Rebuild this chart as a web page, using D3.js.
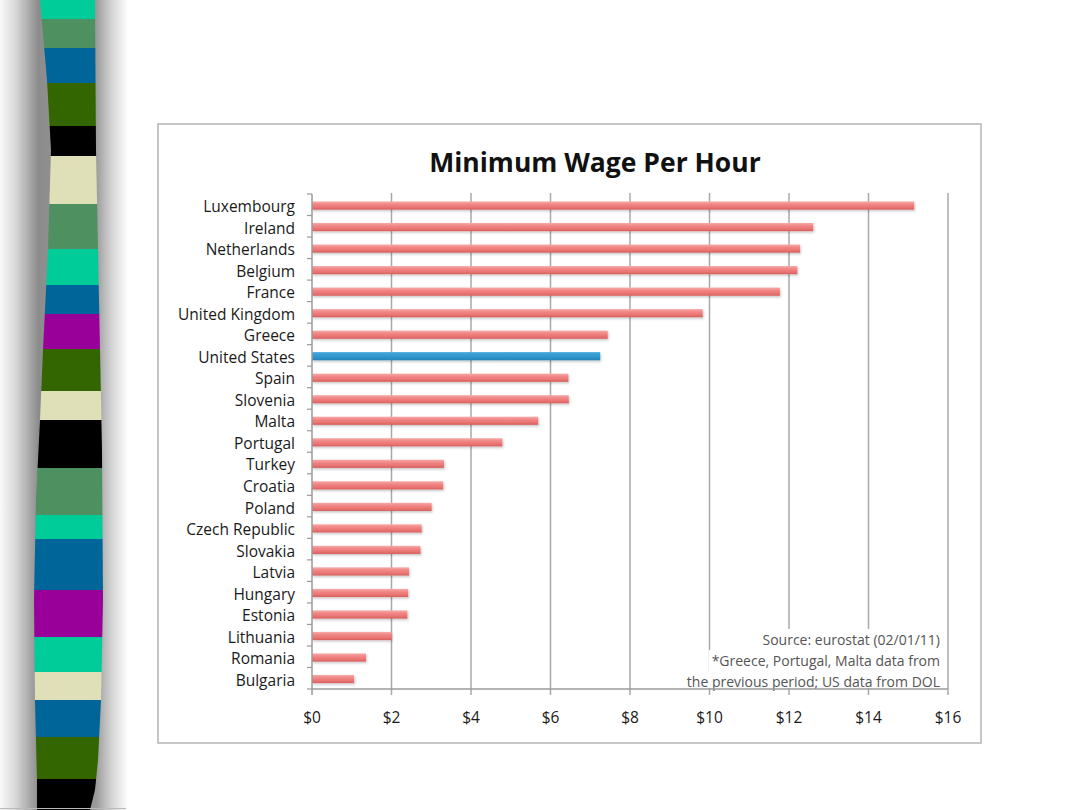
<!DOCTYPE html>
<html><head><meta charset="utf-8">
<script src="https://cdn.jsdelivr.net/npm/d3@7"></script>
<style>html,body{margin:0;padding:0;background:#fff;}svg{display:block;}</style>
</head><body>
<svg id="c" width="1080" height="810"></svg>
<script>
const categories = ["Luxembourg","Ireland","Netherlands","Belgium","France","United Kingdom","Greece","United States","Spain","Slovenia","Malta","Portugal","Turkey","Croatia","Poland","Czech Republic","Slovakia","Latvia","Hungary","Estonia","Lithuania","Romania","Bulgaria"];
const wages = [15.15,12.61,12.28,12.21,11.77,9.83,7.44,7.25,6.45,6.46,5.69,4.79,3.32,3.30,3.01,2.76,2.73,2.44,2.42,2.40,2.00,1.36,1.06];
const xTicks = [0,2,4,6,8,10,12,14,16];
const highlight = "United States";
const title = "Minimum Wage Per Hour";
const noteLines = ["Source: eurostat (02/01/11)","*Greece, Portugal, Malta data from","the previous period; US data from DOL"];
const stripColors = ["#00cc99","#4f9060","#006699","#336600","#000000","#e0e0b8","#4f9060","#00cc99","#006699","#990099","#336600","#e0e0b8","#000000","#4f9060","#00cc99","#006699","#990099","#00cc99","#e0e0b8","#006699","#336600","#000000"];
const stripBreaks = [0,19,48,83,126,156,204,249,285,314,349,391,420,468,515,539,590,637,672,700,737,779,810];

const svg = d3.select("#c");
const defs = svg.append("defs");

// decorative left strip
const sg = defs.append("linearGradient").attr("id","shade").attr("x1","0").attr("x2","1").attr("y1","0").attr("y2","0");
[[0,"#fafafa"],[0.12,"#d8d8d8"],[0.3,"#8c8c8c"],[0.75,"#9a9a9a"],[0.86,"#cfcfcf"],[1,"#ffffff"]].forEach(s=>sg.append("stop").attr("offset",s[0]).attr("stop-color",s[1]));
svg.append("rect").attr("x",0).attr("y",0).attr("width",128).attr("height",810).attr("fill","url(#shade)");
const leftEdge = d3.scaleLinear().domain([0,80,150,250,350,420,500,600,700,780,810]).range([40,47,51,48,43,40,36,34,35,37,37]);
const rightEdge = d3.scaleLinear().domain([0,150,300,450,600,700,760,790,810]).range([95,96,99,102,103,101,98,95,90]);
stripColors.forEach((c,i)=>{
  const y0 = stripBreaks[i], y1 = stripBreaks[i+1];
  const ys = d3.range(y0, y1, 4).concat([y1]);
  const pts = ys.map(y=>[leftEdge(y),y]).concat(ys.slice().reverse().map(y=>[rightEdge(y),y]));
  svg.append("path").attr("d","M"+pts.map(p=>p.join(",")).join("L")+"Z").attr("fill",c);
});
svg.append("line").attr("x1",0).attr("x2",126).attr("y1",808.5).attr("y2",808.5).attr("stroke","#bbb");

// chart frame
svg.append("rect").attr("x",158).attr("y",124).attr("width",823).attr("height",619).attr("fill","#fff").attr("stroke","#b4b4b4").attr("stroke-width",1.5);

svg.append("text").attr("x",595).attr("y",172).attr("text-anchor","middle")
  .attr("font-family","Open Sans").attr("font-weight","bold").attr("font-size",26.5).attr("fill","#111").text(title);

const yTop = 194, yBot = 689;
const x = d3.scaleLinear().domain([0,16]).range([312,948]);
const y = d3.scaleBand().domain(categories).range([yTop,yBot]).paddingInner(0.62).paddingOuter(0.31);

// gridlines
svg.append("g").selectAll("line").data(xTicks.slice(1)).join("line")
  .attr("x1",d=>x(d)).attr("x2",d=>x(d)).attr("y1",yTop-1).attr("y2",yBot+6)
  .attr("stroke","#a8a8a8").attr("stroke-width",1.5);

// bars
const pg = defs.append("linearGradient").attr("id","pink").attr("x1","0").attr("x2","0").attr("y1","0").attr("y2","1");
[[0,"#f7aaa8"],[0.35,"#f08786"],[0.75,"#e87270"],[1,"#d45e5c"]].forEach(s=>pg.append("stop").attr("offset",s[0]).attr("stop-color",s[1]));
const bg = defs.append("linearGradient").attr("id","blue").attr("x1","0").attr("x2","0").attr("y1","0").attr("y2","1");
[[0,"#45a8db"],[0.5,"#3198cf"],[1,"#2685ba"]].forEach(s=>bg.append("stop").attr("offset",s[0]).attr("stop-color",s[1]));
const f = defs.append("filter").attr("id","sh").attr("x","-5%").attr("y","-50%").attr("width","110%").attr("height","200%");
f.append("feDropShadow").attr("dx",1).attr("dy",1.5).attr("stdDeviation",1).attr("flood-color","#000").attr("flood-opacity",0.22);

svg.append("g").selectAll("rect").data(categories).join("rect")
  .attr("x",x(0)).attr("y",d=>y(d)+0.8).attr("height",y.bandwidth())
  .attr("width",(d,i)=>x(wages[i])-x(0))
  .attr("fill",d=>d===highlight?"url(#blue)":"url(#pink)")
  .attr("filter","url(#sh)");

// note with white backgrounds per line
const noteG = svg.append("g");
const noteBase = [645,666,687];
noteLines.forEach((t,i)=>{
  const tx = noteG.append("text").attr("x",940).attr("y",noteBase[i]).attr("text-anchor","end")
    .attr("font-family","Open Sans").attr("font-size",14).attr("fill","#555").text(t);
  const bb = tx.node().getBBox();
  noteG.insert("rect","text").attr("x",bb.x-3).attr("y",noteBase[i]-16).attr("width",bb.width+6).attr("height",i===2?17:21).attr("fill","#fff");
});

// axes lines
svg.append("line").attr("x1",x(0)).attr("x2",x(0)).attr("y1",yTop).attr("y2",yBot+6).attr("stroke","#9a9a9a").attr("stroke-width",1.5);
svg.append("line").attr("x1",x(0)).attr("x2",x(16)).attr("y1",yBot).attr("y2",yBot).attr("stroke","#9a9a9a").attr("stroke-width",1.5);
// category ticks at band boundaries
const bounds = categories.map(c=>y(c)-y.step()*y.paddingInner()/2).concat([yBot]);
svg.append("g").selectAll("line").data(bounds).join("line")
  .attr("x1",x(0)-5).attr("x2",x(0)).attr("y1",d=>d).attr("y2",d=>d).attr("stroke","#9a9a9a").attr("stroke-width",1.2);

// category labels
svg.append("g").selectAll("text").data(categories).join("text")
  .attr("x",295).attr("y",d=>y(d)+y.bandwidth()/2).attr("dy","0.48em").attr("text-anchor","end")
  .attr("font-family","Open Sans").attr("font-size",15.5).attr("fill","#1a1a1a").text(d=>d);

// x tick labels
svg.append("g").selectAll("text").data(xTicks).join("text")
  .attr("x",d=>x(d)).attr("y",723).attr("text-anchor","middle")
  .attr("font-family","Open Sans").attr("font-size",15.5).attr("fill","#1a1a1a").text(d=>"$"+d);
</script>
</body></html>
